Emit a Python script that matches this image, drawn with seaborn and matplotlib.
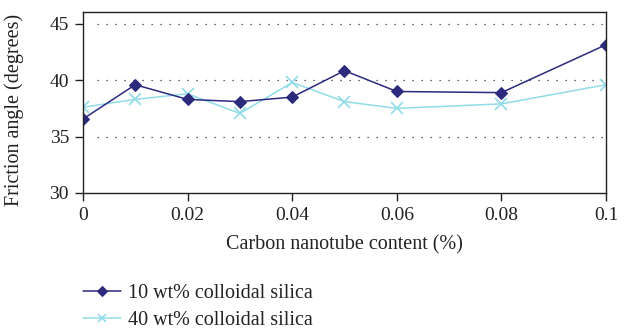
import matplotlib
matplotlib.use("Agg")
import matplotlib.pyplot as plt
import seaborn as sns
import pandas as pd

# Carbon nanotube content (%) and friction angle (degrees) for each silica dosage
cnt_content = [0, 0.01, 0.02, 0.03, 0.04, 0.05, 0.06, 0.08, 0.1]
silica_10 = [36.55, 39.6, 38.3, 38.1, 38.5, 40.85, 39.0, 38.9, 43.15]
silica_40 = [37.6, 38.3, 38.8, 37.05, 39.8, 38.1, 37.5, 37.9, 39.6]
series_names = ["10 wt% colloidal silica", "40 wt% colloidal silica"]
x_ticks = [0, 0.02, 0.04, 0.06, 0.08, 0.1]
x_tick_labels = ["0", "0.02", "0.04", "0.06", "0.08", "0.1"]
y_ticks = [30, 35, 40, 45]

df = pd.DataFrame({
    "content": cnt_content * 2,
    "angle": silica_10 + silica_40,
    "series": [series_names[0]] * len(cnt_content) + [series_names[1]] * len(cnt_content),
})

sns.set_style("white")
plt.rcParams["font.family"] = ["Liberation Serif", "DejaVu Serif"]

fig = plt.figure(figsize=(6.28, 3.32), dpi=100)
ax = fig.add_axes([0.132, 0.419, 0.833, 0.545])

c10 = "#2b2a7d"
c40 = "#92dbe9"

sns.lineplot(data=df[df.series == series_names[1]], x="content", y="angle",
             color=c40, marker="x", markersize=8, markeredgecolor=c40,
             markeredgewidth=1.2, linewidth=1.1,
             label=series_names[1], ax=ax)
sns.lineplot(data=df[df.series == series_names[0]], x="content", y="angle",
             color=c10, marker="D", markersize=6.5, markeredgecolor=c10,
             linewidth=1.1, label=series_names[0], ax=ax)

ax.set_xlim(0, 0.1)
ax.set_ylim(30, 46.06)
ax.set_xticks(x_ticks)
ax.set_xticklabels(x_tick_labels)
ax.set_yticks(y_ticks)

# dotted horizontal guides at the major values above the baseline
for y in [35, 40, 45]:
    ax.plot([0.0027, 0.1], [y, y], color="#333333", linestyle=(0, (1, 6.2)),
            linewidth=0.9, zorder=0)

for s in ax.spines.values():
    s.set_color("#222222")
    s.set_linewidth(1.0)

ax.tick_params(axis="both", which="major", direction="out", length=6, width=1.0,
               color="#222222", labelsize=14, labelcolor="#222222", pad=4,
               bottom=True, left=True)

ax.set_xlabel("Carbon nanotube content (%)", fontsize=14.5, color="#222222", labelpad=8)
ax.set_ylabel("Friction angle (degrees)", fontsize=14.5, color="#222222")
ax.yaxis.set_label_coords(-0.112, 0.46)

handles, labels = ax.get_legend_handles_labels()
order = [labels.index(series_names[0]), labels.index(series_names[1])]
leg = ax.legend([handles[i] for i in order], [labels[i] for i in order],
                loc="center left", bbox_to_anchor=(0.0, -0.63), frameon=False,
                fontsize=14.5, handlelength=1.9, handletextpad=0.35, labelspacing=0.38,
                borderaxespad=0, borderpad=0, markerscale=0.75)
for t in leg.get_texts():
    t.set_color("#222222")

fig.savefig("out.png", dpi=100)
